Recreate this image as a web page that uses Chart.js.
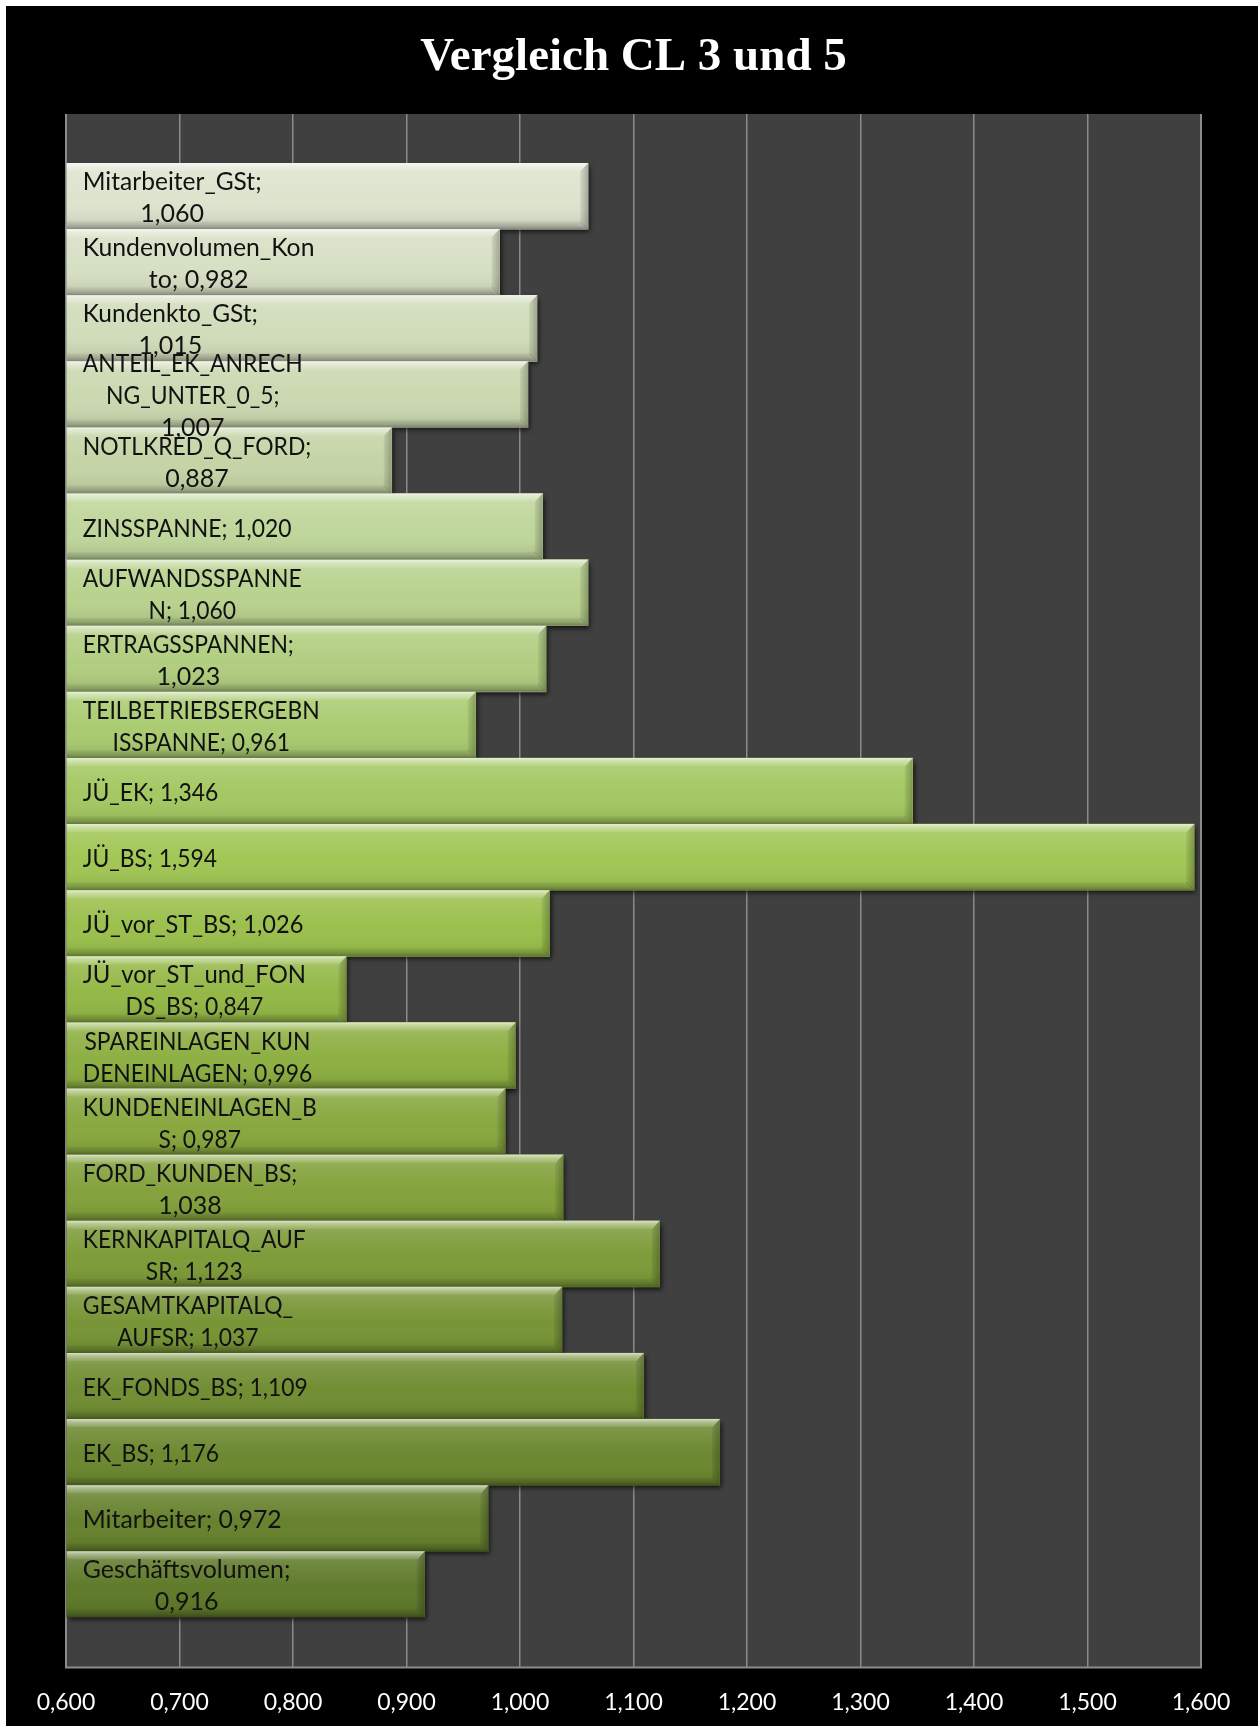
<!DOCTYPE html>
<html>
<head>
<meta charset="utf-8">
<script src="https://cdn.jsdelivr.net/npm/chart.js@4"></script>
<style>
  html, body { margin: 0; padding: 0; background: #ffffff; overflow: hidden; }
  #frame { position: absolute; left: 6px; top: 6px; width: 1252px; height: 1720px; background: #000000; overflow: hidden; }
  canvas { display: block; }
</style>
</head>
<body>
<div id="frame"><canvas id="chart" width="1252" height="1731"></canvas></div>
<script>
// Kennzahlen, Verhältnis CL 3 zu CL 5 (von oben nach unten)
const categories = [
  'Mitarbeiter_GSt', 'Kundenvolumen_Konto', 'Kundenkto_GSt', 'ANTEIL_EK_ANRECHNG_UNTER_0_5',
  'NOTLKRED_Q_FORD', 'ZINSSPANNE', 'AUFWANDSSPANNEN', 'ERTRAGSSPANNEN',
  'TEILBETRIEBSERGEBNISSPANNE', 'JÜ_EK', 'JÜ_BS', 'JÜ_vor_ST_BS',
  'JÜ_vor_ST_und_FONDS_BS', 'SPAREINLAGEN_KUNDENEINLAGEN', 'KUNDENEINLAGEN_BS', 'FORD_KUNDEN_BS',
  'KERNKAPITALQ_AUFSR', 'GESAMTKAPITALQ_AUFSR', 'EK_FONDS_BS', 'EK_BS',
  'Mitarbeiter', 'Geschäftsvolumen'
];
const values = [
  1.060, 0.982, 1.015, 1.007,
  0.887, 1.020, 1.060, 1.023,
  0.961, 1.346, 1.594, 1.026,
  0.847, 0.996, 0.987, 1.038,
  1.123, 1.037, 1.109, 1.176,
  0.972, 0.916
];
// Zeichenpositionen, an denen die Beschriftung umbricht
const labelBreaks = [
  [16], [17], [14], [16, 29],
  [16], [], [14], [15],
  [18], [], [], [],
  [17], [16], [16], [15],
  [16], [15], [], [],
  [], [17]
];
const xTickValues = [0.6, 0.7, 0.8, 0.9, 1.0, 1.1, 1.2, 1.3, 1.4, 1.5, 1.6];

// Farbverlauf der Balken von hell (oben) nach dunkel (unten)
const barColors = [
  '#dce4ce', '#d6e0c4', '#d0dcba', '#cad8b0', '#c4d4a6', '#bfd69b',
  '#b8d28e', '#b1ce80', '#aacb71', '#a4c862', '#a1c655', '#9bc04d',
  '#94b847', '#8daf42', '#88a83f', '#83a23c', '#7d9c39', '#779536',
  '#718e33', '#6c8830', '#67822e', '#5f7a2a'
];

// freier Rand der Plotfläche über und unter den Balken
const PLOT_PAD_TOP = 49;
const PLOT_PAD_BOTTOM = 50;
const GRID_COLOR = '#8a8a8a';

const fmt = v => v.toFixed(3).replace('.', ',');

function labelLines(i) {
  const text = categories[i] + '; ' + fmt(values[i]);
  const lines = [];
  let prev = 0;
  for (const b of labelBreaks[i]) { lines.push(text.slice(prev, b).trim()); prev = b; }
  lines.push(text.slice(prev).trim());
  return lines;
}

// Versalien der Ersatzschrift laufen breiter: Zeilen mit vielen Großbuchstaben leicht stauchen
function lineSqueeze(s) {
  const letters = s.replace(/[^A-Za-zÄÖÜäöüß]/g, '');
  if (!letters.length) return 1;
  const caps = letters.replace(/[^A-ZÄÖÜ]/g, '').length;
  return 1 - 0.085 * caps / letters.length;
}

function barRect(el) {
  const p = el.getProps(['x', 'y', 'base', 'height'], true);
  return {
    L: Math.min(p.x, p.base), R: Math.max(p.x, p.base),
    T: p.y - p.height / 2, B: p.y + p.height / 2, cy: p.y
  };
}

function plotBox(chart) {
  const a = chart.chartArea;
  return { left: a.left, right: a.right, top: a.top - PLOT_PAD_TOP, bottom: a.bottom + PLOT_PAD_BOTTOM };
}

// Plotfläche, Rahmen, Schatten, Abschrägung der Balken und Beschriftungen
const decor = {
  id: 'decor',
  beforeDraw(chart) {
    const { ctx } = chart;
    const p = plotBox(chart);
    ctx.save();
    ctx.fillStyle = '#404040';
    ctx.fillRect(p.left, p.top, p.right - p.left, p.bottom - p.top);
    ctx.restore();
  },
  beforeDatasetsDraw(chart) {
    const { ctx } = chart;
    const p = plotBox(chart);
    ctx.save();
    ctx.strokeStyle = '#8c8c8c';
    ctx.lineWidth = 2;
    ctx.beginPath();
    ctx.moveTo(p.left, p.top); ctx.lineTo(p.left, p.bottom);
    ctx.lineTo(p.right, p.bottom); ctx.lineTo(p.right, p.top);
    ctx.stroke();
    // Schlagschatten
    const meta = chart.getDatasetMeta(0);
    ctx.shadowColor = 'rgba(0,0,0,0.75)';
    ctx.shadowBlur = 5;
    ctx.shadowOffsetX = 2;
    ctx.shadowOffsetY = 3;
    ctx.fillStyle = '#202020';
    meta.data.forEach(el => {
      const r = barRect(el);
      ctx.fillRect(r.L, r.T, r.R - r.L, r.B - r.T);
    });
    ctx.restore();
  },
  afterDatasetsDraw(chart) {
    const { ctx } = chart;
    const meta = chart.getDatasetMeta(0);
    const bv = 8;
    ctx.save();
    meta.data.forEach(el => {
      const { L, R, T, B } = barRect(el);
      const h = B - T;
      // Körper
      let g = ctx.createLinearGradient(0, T, 0, B);
      g.addColorStop(0, 'rgba(255,255,255,0.22)');
      g.addColorStop(0.2, 'rgba(255,255,255,0.10)');
      g.addColorStop(0.55, 'rgba(255,255,255,0)');
      g.addColorStop(0.85, 'rgba(0,0,0,0.05)');
      g.addColorStop(1, 'rgba(0,0,0,0.12)');
      ctx.fillStyle = g;
      ctx.fillRect(L, T, R - L, h);
      // obere Kante
      g = ctx.createLinearGradient(0, T, 0, T + bv);
      g.addColorStop(0, 'rgba(255,255,255,0.65)');
      g.addColorStop(0.35, 'rgba(255,255,255,0.35)');
      g.addColorStop(1, 'rgba(255,255,255,0.08)');
      ctx.fillStyle = g;
      ctx.beginPath();
      ctx.moveTo(L, T); ctx.lineTo(R, T); ctx.lineTo(R - bv, T + bv); ctx.lineTo(L, T + bv);
      ctx.closePath(); ctx.fill();
      // untere Kante
      g = ctx.createLinearGradient(0, B - bv, 0, B);
      g.addColorStop(0, 'rgba(0,0,0,0.04)');
      g.addColorStop(0.6, 'rgba(0,0,0,0.16)');
      g.addColorStop(1, 'rgba(0,0,0,0.32)');
      ctx.fillStyle = g;
      ctx.beginPath();
      ctx.moveTo(L, B); ctx.lineTo(R, B); ctx.lineTo(R - bv, B - bv); ctx.lineTo(L, B - bv);
      ctx.closePath(); ctx.fill();
      // rechte Kante
      g = ctx.createLinearGradient(R - bv, 0, R, 0);
      g.addColorStop(0, 'rgba(0,0,0,0.06)');
      g.addColorStop(1, 'rgba(0,0,0,0.26)');
      ctx.fillStyle = g;
      ctx.beginPath();
      ctx.moveTo(R, T); ctx.lineTo(R, B); ctx.lineTo(R - bv, B - bv); ctx.lineTo(R - bv, T + bv);
      ctx.closePath(); ctx.fill();
      // Eckkanten
      ctx.strokeStyle = 'rgba(255,255,255,0.25)';
      ctx.lineWidth = 1;
      ctx.beginPath();
      ctx.moveTo(R, T); ctx.lineTo(R - bv, T + bv);
      ctx.stroke();
      ctx.strokeStyle = 'rgba(0,0,0,0.15)';
      ctx.beginPath();
      ctx.moveTo(R, B); ctx.lineTo(R - bv, B - bv);
      ctx.stroke();
    });
    // Datenbeschriftungen
    ctx.font = '25px Lato';
    ctx.fillStyle = '#111111';
    ctx.textBaseline = 'middle';
    ctx.textAlign = 'center';
    const lh = 32;
    meta.data.forEach((el, i) => {
      const { L, cy } = barRect(el);
      const lines = labelLines(i);
      const widths = lines.map(s => ctx.measureText(s).width * lineSqueeze(s));
      const w = Math.max(...widths);
      const cx = L + 16 + w / 2;
      lines.forEach((s, k) => {
        const sq = lineSqueeze(s);
        ctx.save();
        ctx.translate(cx, cy + (k - (lines.length - 1) / 2) * lh + 2);
        ctx.scale(sq, 1);
        ctx.fillText(s, 0, 0);
        ctx.restore();
      });
    });
    ctx.restore();
  }
};

const setTicks = s => { s.ticks = xTickValues.map(v => ({ value: v })); };

new Chart(document.getElementById('chart'), {
  type: 'bar',
  data: {
    labels: categories,
    datasets: [{
      data: values,
      base: 0.6,
      backgroundColor: barColors,
      borderWidth: 0,
      barPercentage: 1,
      categoryPercentage: 1
    }]
  },
  options: {
    indexAxis: 'y',
    responsive: false,
    devicePixelRatio: 1,
    animation: false,
    layout: { padding: { left: 60, right: 57, top: 0, bottom: 0 } },
    plugins: {
      legend: { display: false },
      tooltip: { enabled: false },
      title: {
        display: true,
        text: 'Vergleich CL 3 und 5',
        color: '#ffffff',
        font: { family: "'Liberation Serif', 'Times New Roman', serif", size: 47, weight: 'bold', lineHeight: 1.2 },
        padding: { top: 24, bottom: 27.6 }
      }
    },
    scales: {
      x: {
        type: 'linear',
        position: 'bottom',
        min: 0.6,
        max: 1.6,
        afterBuildTicks: setTicks,
        ticks: {
          color: '#ffffff',
          font: { family: 'Lato', size: 23, lineHeight: 1.2 },
          padding: 21,
          maxRotation: 0,
          autoSkip: false,
          callback: v => fmt(v)
        },
        grid: { color: GRID_COLOR, lineWidth: 1.5, drawTicks: true, tickLength: PLOT_PAD_BOTTOM },
        border: { display: false }
      },
      xTop: {
        type: 'linear',
        position: 'top',
        min: 0.6,
        max: 1.6,
        afterBuildTicks: setTicks,
        ticks: { display: false },
        grid: { color: GRID_COLOR, lineWidth: 1.5, drawOnChartArea: false, drawTicks: true, tickLength: PLOT_PAD_TOP },
        border: { display: false }
      },
      y: {
        type: 'category',
        offset: true,
        display: false
      }
    }
  },
  plugins: [decor]
});
</script>
</body>
</html>
